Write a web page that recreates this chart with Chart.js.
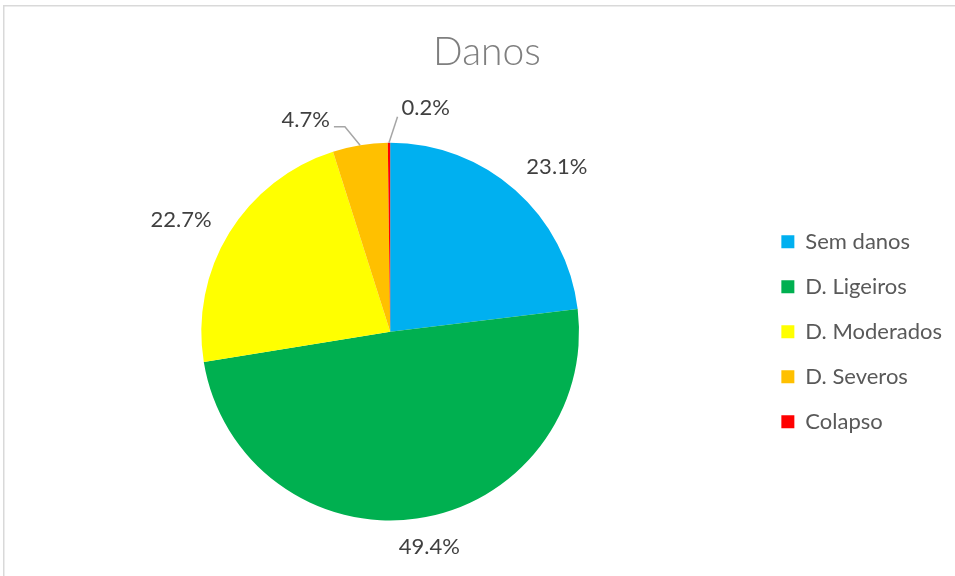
<!DOCTYPE html>
<html>
<head>
<meta charset="utf-8">
<title>Danos</title>
<script src="https://cdn.jsdelivr.net/npm/chart.js@4/dist/chart.umd.min.js"></script>
<style>
  html, body { margin: 0; padding: 0; background: #fff; }
  #wrap { position: relative; width: 955px; height: 576px; }
</style>
</head>
<body>
<div id="wrap"><canvas id="pieCanvas" width="955" height="576"></canvas></div>
<script>
// Damage classes and their share (%)
const categories = ['Sem danos', 'D. Ligeiros', 'D. Moderados', 'D. Severos', 'Colapso'];
const shares = [23.1, 49.4, 22.7, 4.7, 0.2];
const sliceColors = ['#00B0F0', '#00B050', '#FFFF00', '#FFC000', '#FF0000'];

const FONT = 'Lato, "Open Sans", sans-serif';

// Light frame on the top and left edges
const framePlugin = {
  id: 'frame',
  beforeDraw(chart) {
    const ctx = chart.ctx;
    ctx.save();
    ctx.fillStyle = '#d9d9d9';
    ctx.fillRect(3, 5, chart.width, 1.5);
    ctx.fillRect(3, 5, 1.5, chart.height);
    ctx.restore();
  }
};

// Outside percentage labels; the two thin slices get leader lines
const pctLabelPlugin = {
  id: 'pctLabels',
  afterDatasetsDraw(chart) {
    const ctx = chart.ctx;
    const arcs = chart.getDatasetMeta(0).data;
    // small nudges so labels sit where there is room
    const nudge = [[11, 11], [6, -17], [-9, 11], [-47, 20], [37, 11]];
    ctx.save();
    ctx.font = '22px ' + FONT;
    ctx.textAlign = 'center';
    ctx.textBaseline = 'middle';
    arcs.forEach((arc, i) => {
      const { x, y, startAngle, endAngle, outerRadius } = arc.getProps(['x', 'y', 'startAngle', 'endAngle', 'outerRadius'], true);
      const mid = (startAngle + endAngle) / 2;
      const d = outerRadius + 46;
      const lx = x + Math.cos(mid) * d + nudge[i][0];
      const ly = y + Math.sin(mid) * d + nudge[i][1];
      const text = shares[i].toFixed(1) + '%';
      const w = ctx.measureText(text).width;

      if (shares[i] < 5) {
        const ex = x + Math.cos(mid) * outerRadius;
        const ey = y + Math.sin(mid) * outerRadius;
        ctx.strokeStyle = '#a6a6a6';
        ctx.lineWidth = 1.5;
        ctx.beginPath();
        ctx.moveTo(ex, ey);
        if (lx < ex) {
          // label sits to the left: elbow then short horizontal run
          ctx.lineTo(lx + w / 2 + 15, ly + 7);
          ctx.lineTo(lx + w / 2 + 4, ly + 7);
        } else {
          ctx.lineTo(lx - w / 2 - 4, ly + 9);
        }
        ctx.stroke();
      }

      ctx.fillStyle = '#404040';
      ctx.fillText(text, lx, ly);
    });
    ctx.restore();
  }
};

new Chart(document.getElementById('pieCanvas'), {
  type: 'pie',
  data: {
    labels: categories,
    datasets: [{
      data: shares,
      backgroundColor: sliceColors,
      borderWidth: 0
    }]
  },
  options: {
    responsive: false,
    animation: false,
    layout: { padding: { top: 0, left: 22, right: 3, bottom: 55.5 } },
    plugins: {
      title: {
        display: true,
        text: 'Danos',
        color: '#7f7f7f',
        font: { family: FONT, size: 39, weight: '300', lineHeight: 1.2 },
        padding: { top: 29, bottom: 67 }
      },
      legend: {
        position: 'right',
        fullSize: false,
        labels: {
          color: '#595959',
          font: { family: FONT, size: 22 },
          boxWidth: 13,
          boxHeight: 13,
          padding: 23
        }
      },
      tooltip: { enabled: false }
    }
  },
  plugins: [framePlugin, pctLabelPlugin]
});
</script>
</body>
</html>
